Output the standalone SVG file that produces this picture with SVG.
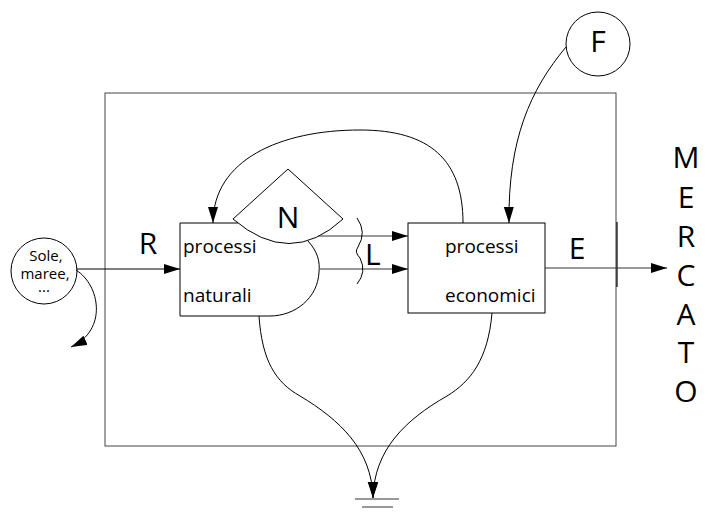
<svg xmlns="http://www.w3.org/2000/svg" width="710" height="513" viewBox="0 0 710 513">
<style>
.ln{fill:none;stroke:#000;stroke-width:1}
.gl{fill:none;stroke:#333;stroke-width:1}
.big{font-family:"Open Sans","Liberation Sans",sans-serif;font-size:30px;fill:#000}
.lbl{font-family:"Open Sans","Liberation Sans",sans-serif;font-size:19px;fill:#000}
.sm{font-family:"Open Sans","Liberation Sans",sans-serif;font-size:15px;fill:#000}
</style>
<defs>
<marker id="ah" markerUnits="userSpaceOnUse" markerWidth="18" markerHeight="12" refX="16" refY="5" orient="auto">
<path d="M0,0 L16,5 L0,10 z" fill="#000"/>
</marker>
</defs>
<rect width="710" height="513" fill="#fff"/>
<g id="system">
<rect x="105" y="93" width="511" height="353" fill="none" stroke="#444" stroke-width="1"/>
<line x1="617" y1="222" x2="617" y2="287" stroke="#000" stroke-width="1.2"/>
</g>
<g id="sole">
<circle cx="44" cy="271" r="33" class="ln"/>
<text class="sm" x="46" y="261" text-anchor="middle">Sole,</text>
<text class="sm" x="45" y="279" text-anchor="middle">maree,</text>
<text class="sm" x="44" y="292" text-anchor="middle">...</text>
</g>
<g id="natural">
<path class="ln" d="M238,223 L180,223 L180,316 L270,316 C295,316 318,298 319,272 C320,262 318,252 308,241"/>
<text class="lbl" x="183" y="253">processi</text>
<text class="lbl" x="183" y="302">naturali</text>
</g>
<g id="N">
<path class="ln" fill="#fff" d="M233,219 L288,169 L343,219 Q290,268 233,219 z"/>
<text class="big" x="288" y="228" font-size="31" text-anchor="middle">N</text>
</g>
<g id="economic">
<rect x="408" y="223" width="137" height="90" class="ln"/>
<text class="lbl" x="445" y="253">processi</text>
<text class="lbl" x="445" y="302">economici</text>
</g>
<g id="F">
<circle cx="598" cy="44" r="32" class="ln"/>
<text class="big" x="598" y="52" text-anchor="middle">F</text>
</g>
<g id="ground">
<line x1="355" y1="499" x2="399" y2="499" stroke="#333" stroke-width="1"/>
<line x1="362" y1="507" x2="393" y2="507" stroke="#333" stroke-width="1"/>
</g>
<g id="mercato">
<text class="big" x="686" y="168" text-anchor="middle">M</text>
<text class="big" x="686" y="208" text-anchor="middle">E</text>
<text class="big" x="686" y="247" text-anchor="middle">R</text>
<text class="big" x="686" y="286" text-anchor="middle">C</text>
<text class="big" x="686" y="325" text-anchor="middle">A</text>
<text class="big" x="686" y="363" text-anchor="middle">T</text>
<text class="big" x="686" y="402" text-anchor="middle">O</text>
</g>
<g id="connectors">
<path class="ln" d="M77,269 L180,269" marker-end="url(#ah)"/>
<path class="ln" d="M76,270 C100,285 108,330 71,347" marker-end="url(#ah)"/>
<path class="gl" d="M318,236 L408,236" marker-end="url(#ah)"/>
<path class="gl" d="M320,269 L408,269" marker-end="url(#ah)"/>
<path class="ln" d="M357,218 Q367,232 358,247 Q354,252 360,258 Q367,272 357,284"/>
<path class="gl" d="M545,268 L667,268" marker-end="url(#ah)"/>
<path class="ln" d="M463,223 C463,160 430,130 360,130 C280,130 213,160 213,223" marker-end="url(#ah)"/>
<path class="ln" d="M566,47 C530,90 508,140 509,223" marker-end="url(#ah)"/>
<path class="ln" d="M259,316 C262,360 275,382 300,396 C340,420 372,450 373,498" marker-end="url(#ah)"/>
<path class="ln" d="M492,313 C488,360 470,382 447,396 C405,420 374,450 373,498" marker-end="url(#ah)"/>
<text class="big" x="148" y="254" text-anchor="middle">R</text>
<text class="big" x="365" y="265">L</text>
<text class="big" x="577" y="259" text-anchor="middle">E</text>
</g>
</svg>
